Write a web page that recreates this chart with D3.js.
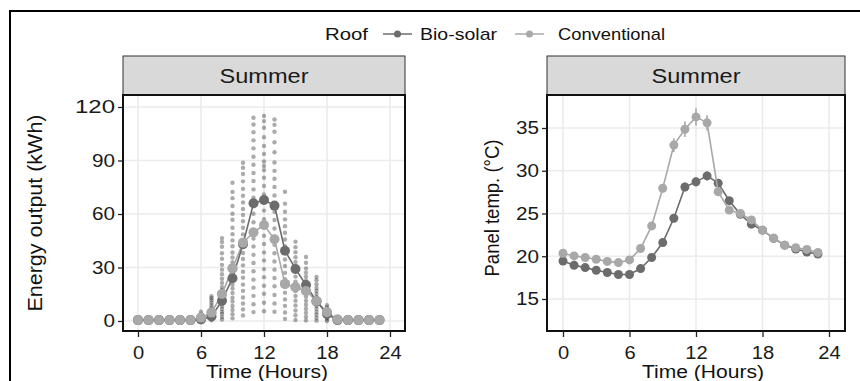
<!DOCTYPE html>
<html>
<head>
<meta charset="utf-8">
<script src="https://cdn.jsdelivr.net/npm/d3@7"></script>
<style>
  body { margin: 0; background: #fff; }
  text { font-family: "Liberation Sans", Arial, sans-serif; }
</style>
</head>
<body>
<div id="chart"></div>
<script>
// hours of the day
const hours = d3.range(0, 24);
const xTicks = [0, 6, 12, 18, 24];
const energyTicks = [0, 30, 60, 90, 120];
const tempTicks = [15, 20, 25, 30, 35];
const roofs = ["Bio-solar", "Conventional"];

// mean hourly energy output (kWh)
const energyBio = [0.5, 0.5, 0.5, 0.5, 0.5, 0.5, 0.8, 2.5, 11.4, 24, 43, 66, 67.9, 64.7, 39.4, 29.2, 20.2, 11, 4, 0.5, 0.5, 0.5, 0.5, 0.5];
const energyConv = [0.5, 0.5, 0.5, 0.5, 0.5, 0.5, 1.9, 4.7, 15.1, 29.5, 43.9, 49.7, 53.8, 45.8, 20.8, 18.9, 16.8, 11.2, 4.9, 0.8, 0.5, 0.5, 0.5, 0.5];

// raw hourly observations (kWh), hours 6..18
const obsHours = [6, 7, 8, 9, 10, 11, 12, 13, 14, 15, 16, 17, 18];
const obsValues = [
  [0, 0.3, 0.8, 1.2, 1.9, 2.5, 3.1, 4.0, 5.2],
  [0.4, 1.1, 1.8, 2.6, 3.3, 4.1, 4.9, 5.6, 6.8, 7.5, 8.9, 10.2, 11.6, 12.8, 13.9],
  [0.8, 2.2, 3.9, 5.1, 6.7, 8.3, 9.6, 11.2, 12.9, 14.1, 15.8, 17.4, 19.0, 21.3, 23.7, 26.2, 28.8, 31.5, 34.9, 38.0, 41.6, 44.3, 46.5],
  [1.5, 3.8, 6.2, 8.4, 10.9, 13.1, 15.7, 18.2, 20.4, 22.9, 25.1, 27.8, 30.3, 33.0, 35.6, 38.4, 41.9, 45.2, 48.7, 52.3, 56.8, 60.1, 64.5, 68.9, 72.4, 77.5],
  [3.1, 6.5, 9.8, 13.2, 16.9, 20.4, 24.3, 27.6, 31.2, 34.8, 38.1, 41.7, 45.0, 48.6, 52.3, 55.9, 59.4, 62.8, 66.5, 70.2, 74.1, 78.3, 82.5, 85.9, 88.7],
  [5.0, 9.4, 14.1, 18.7, 23.2, 27.9, 32.5, 37.1, 41.8, 46.3, 50.9, 55.4, 60.1, 64.7, 69.2, 73.8, 78.5, 83.0, 87.6, 92.1, 96.8, 101.3, 105.9, 110.2, 114.0],
  [5.5, 10.2, 15.3, 19.8, 24.6, 29.1, 33.9, 38.4, 43.2, 47.8, 52.5, 57.1, 61.9, 66.4, 71.0, 75.7, 80.3, 84.6, 86.9, 89.4, 93.7, 98.2, 103.0, 108.4, 112.1, 115.0],
  [5.2, 9.8, 14.6, 19.5, 24.1, 28.8, 33.4, 38.0, 42.7, 47.3, 51.9, 56.6, 61.2, 65.8, 70.4, 75.1, 79.8, 84.2, 88.9, 94.6, 100.2, 106.1, 110.0, 113.0],
  [1.2, 4.8, 8.5, 12.1, 15.9, 19.6, 23.4, 27.0, 30.8, 34.5, 38.2, 42.0, 45.7, 49.5, 53.2, 57.0, 61.3, 65.8, 72.5],
  [0.6, 3.2, 5.9, 8.7, 11.4, 14.0, 16.8, 19.5, 22.1, 24.9, 27.6, 30.3, 33.1, 35.8, 38.6, 41.4, 44.5],
  [0.3, 2.4, 4.6, 6.9, 9.1, 11.3, 13.6, 15.8, 18.1, 20.3, 22.6, 24.8, 27.1, 29.5, 32.7, 35.9],
  [0.2, 1.8, 3.5, 5.1, 6.8, 8.4, 10.1, 11.8, 13.4, 15.1, 16.8, 18.5, 20.6, 22.9, 24.7],
  [0, 0.9, 1.8, 2.8, 3.9, 5.1, 6.4, 7.6, 8.9]
];

// mean hourly panel temperature (°C)
const tempBio = [19.45, 18.95, 18.67, 18.36, 18.1, 17.86, 17.86, 18.56, 19.85, 21.6, 24.44, 28.1, 28.7, 29.4, 28.55, 26.5, 24.9, 23.75, 23.05, 22.1, 21.3, 20.85, 20.5, 20.25];
const tempConv = [20.35, 20.04, 19.85, 19.65, 19.4, 19.26, 19.57, 20.9, 23.55, 27.95, 33.0, 34.85, 36.3, 35.6, 27.55, 25.4, 25.0, 24.25, 23.05, 22.1, 21.3, 21.0, 20.8, 20.45];
const tempBioSe = [0.1, 0.1, 0.1, 0.1, 0.1, 0.1, 0.1, 0.1, 0.2, 0.3, 0.4, 0.5, 0.5, 0.5, 0.4, 0.3, 0.2, 0.2, 0.1, 0.1, 0.1, 0.1, 0.1, 0.1];
const tempConvSe = [0.1, 0.1, 0.1, 0.1, 0.1, 0.1, 0.1, 0.2, 0.3, 0.5, 0.8, 0.9, 1.0, 0.9, 0.4, 0.3, 0.2, 0.2, 0.1, 0.1, 0.1, 0.1, 0.1, 0.1];

const colBio = "#6c6c6c";
const colConv = "#a8a8a8";

const W = 860, H = 381;
const svg = d3.select("#chart").append("svg")
  .attr("width", W).attr("height", H);

// stretch text to the width it has in the picture
function fit(sel, w) {
  return sel.attr("textLength", w).attr("lengthAdjust", "spacingAndGlyphs");
}

// outer frame
svg.append("rect")
  .attr("x", 10).attr("y", 11)
  .attr("width", 900).attr("height", 420)
  .attr("fill", "none").attr("stroke", "#000").attr("stroke-width", 2);

// legend
const leg = svg.append("g");
fit(leg.append("text").attr("x", 325).attr("y", 40).attr("font-size", 17).attr("fill", "#111").text("Roof"), 43);
const legX = [383, 515];
const legLabelX = [420, 558];
const legW = [77, 107];
roofs.forEach((r, i) => {
  const c = i === 0 ? colBio : colConv;
  leg.append("line").attr("x1", legX[i]).attr("x2", legX[i] + 29).attr("y1", 34).attr("y2", 34)
    .attr("stroke", c).attr("stroke-width", 1.5);
  leg.append("circle").attr("cx", legX[i] + 14.5).attr("cy", 34).attr("r", 3.5).attr("fill", c);
  fit(leg.append("text").attr("x", legLabelX[i]).attr("y", 40).attr("font-size", 17).attr("fill", "#111").text(r), legW[i]);
});

function panel(opts) {
  const g = svg.append("g");
  const x = d3.scaleLinear().domain([0, 24]).range(opts.xr);
  const y = d3.scaleLinear().domain(opts.yd).range(opts.yr);
  const left = opts.left, right = opts.right, top = 95, bottom = 331;

  // strip
  g.append("rect").attr("x", left).attr("y", 56).attr("width", right - left).attr("height", top - 56)
    .attr("fill", "#d9d9d9").attr("stroke", "#333").attr("stroke-width", 1);
  fit(g.append("text").attr("x", (left + right) / 2 - 44.5).attr("y", 83)
    .attr("font-size", 20).attr("fill", "#1a1a1a").text("Summer"), 89);

  // grid
  g.append("g").selectAll("line").data(xTicks).join("line")
    .attr("x1", d => x(d)).attr("x2", d => x(d)).attr("y1", top).attr("y2", bottom)
    .attr("stroke", "#ebebeb").attr("stroke-width", 1.6);
  g.append("g").selectAll("line").data(opts.yTicks).join("line")
    .attr("x1", left).attr("x2", right).attr("y1", d => y(d)).attr("y2", d => y(d))
    .attr("stroke", "#ebebeb").attr("stroke-width", 1.6);

  opts.draw(g, x, y);

  // border
  g.append("rect").attr("x", left).attr("y", top).attr("width", right - left).attr("height", bottom - top)
    .attr("fill", "none").attr("stroke", "#111").attr("stroke-width", 2);

  // axes
  const xAxis = g.append("g").attr("transform", `translate(0,${bottom})`)
    .call(d3.axisBottom(x).tickValues(xTicks).tickSize(6).tickPadding(9));
  const yAxis = g.append("g").attr("transform", `translate(${left},0)`)
    .call(d3.axisLeft(y).tickValues(opts.yTicks).tickSize(5).tickPadding(3));
  [xAxis, yAxis].forEach(a => {
    a.select(".domain").remove();
    a.selectAll(".tick line").attr("stroke", "#222").attr("stroke-width", 1.3);
    a.selectAll(".tick text").attr("font-size", 18).attr("fill", "#1a1a1a")
      .attr("font-family", '"Liberation Sans", Arial, sans-serif');
  });
  xAxis.selectAll(".tick text").each(function(d) {
    const s = String(d);
    d3.select(this).attr("x", -s.length * 5.6);
    fit(d3.select(this).attr("text-anchor", "start"), s.length * 11.2);
  });
  yAxis.selectAll(".tick text").each(function(d) {
    const s = String(d);
    const w = s.length === 3 ? 40 : s.length * 11.5;
    d3.select(this).attr("x", -8 - w);
    fit(d3.select(this).attr("text-anchor", "start"), w);
  });

  // titles
  fit(g.append("text").attr("x", opts.xtc - 61).attr("y", 378)
    .attr("font-size", 18).attr("fill", "#111").text("Time (Hours)"), 122);
  fit(g.append("text").attr("transform", `translate(${opts.ytx},${opts.ytc + opts.ytw / 2}) rotate(-90)`)
    .attr("font-size", 20).attr("fill", "#111").text(opts.yTitle), opts.ytw);
}

function line(g, x, y, vals, col) {
  const l = d3.line().x((d, i) => x(hours[i])).y(d => y(d));
  g.append("path").datum(vals).attr("d", l).attr("fill", "none")
    .attr("stroke", col).attr("stroke-width", 1.6);
}

function points(g, x, y, vals, col, r, idx, se) {
  if (se) {
    g.append("g").selectAll("line").data(idx).join("line")
      .attr("x1", i => x(hours[i])).attr("x2", i => x(hours[i]))
      .attr("y1", i => y(vals[i] - se[i])).attr("y2", i => y(vals[i] + se[i]))
      .attr("stroke", col).attr("stroke-width", 1.6);
  }
  g.append("g").selectAll("circle").data(idx).join("circle")
    .attr("cx", i => x(hours[i])).attr("cy", i => y(vals[i])).attr("r", r).attr("fill", col);
}

panel({
  left: 123, right: 405, xr: [138, 390], yd: [0, 120], yr: [321, 107], yTicks: energyTicks,
  ytx: 42, ytc: 213, ytw: 197, xtc: 267, yTitle: "Energy output (kWh)",
  draw: (g, x, y) => {
    const pts = [];
    obsHours.forEach((h, i) => obsValues[i].forEach(v => pts.push([h, v])));
    g.append("g").selectAll("circle").data(pts).join("circle")
      .attr("cx", d => x(d[0])).attr("cy", d => y(d[1])).attr("r", 2.2)
      .attr("fill", "#2e2e2e").attr("opacity", 0.4);
    const all = hours.map((h, i) => i);
    line(g, x, y, energyConv, colConv);
    line(g, x, y, energyBio, colBio);
    points(g, x, y, energyConv, colConv, 5, all);
    points(g, x, y, energyBio, colBio, 5, all);
    // conventional on top at the tails and where it is the higher one
    points(g, x, y, energyConv, colConv, 5, all.filter(i => energyConv[i] >= energyBio[i] || i >= 14));
  }
});

panel({
  left: 547, right: 845, xr: [563, 829], yd: [15, 35], yr: [299, 128], yTicks: tempTicks,
  ytx: 499, ytc: 208, ytw: 137, xtc: 703, yTitle: "Panel temp. (°C)",
  draw: (g, x, y) => {
    const all = hours.map((h, i) => i);
    line(g, x, y, tempBio, colBio);
    points(g, x, y, tempBio, colBio, 4.5, all, tempBioSe);
    line(g, x, y, tempConv, colConv);
    points(g, x, y, tempConv, colConv, 4.5, all, tempConvSe);
  }
});
</script>
</body>
</html>
